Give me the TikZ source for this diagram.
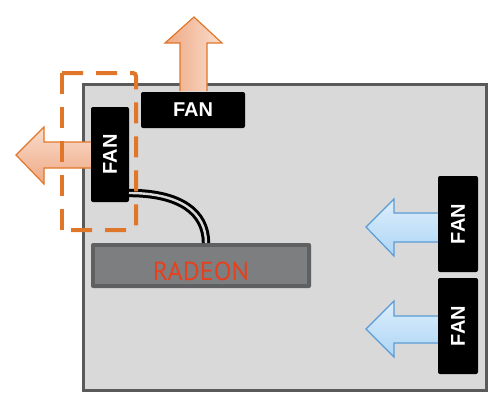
\documentclass[tikz,border=0pt]{standalone}
\usepackage{fontspec}
\newfontfamily\fanfont{Liberation Sans}
\newfontfamily\radfont{PT Sans}
\usetikzlibrary{shadings}
\definecolor{casefill}{HTML}{D9D9D9}
\definecolor{caseline}{HTML}{5A5A5A}
\definecolor{orng}{HTML}{E0762A}
\definecolor{orngA}{HTML}{EFA883}
\definecolor{orngB}{HTML}{F9DDCD}
\definecolor{bluel}{HTML}{5B9BD5}
\definecolor{blueA}{HTML}{DDEEFC}
\definecolor{blueB}{HTML}{ADD5F5}
\definecolor{cardout}{HTML}{5F6062}
\definecolor{cardin}{HTML}{7D7E80}
\definecolor{radred}{HTML}{E8401C}
\tikzset{
  fanbox/.style={fill=black, rounded corners=2pt, inner sep=0pt, text=white,
     font=\fanfont\bfseries\fontsize{20}{20}\selectfont},
  outarrowv/.style={draw=orng, line width=1.2pt, left color=orngA, right color=orngB, line join=miter},
  outarrowh/.style={draw=orng, line width=1.2pt, top color=orngB, bottom color=orngA, line join=miter},
  inarrow/.style={draw=bluel, line width=1.2pt, top color=blueA, bottom color=blueB, line join=miter},
  dashbox/.style={orng, line width=4pt, dash pattern=on 21pt off 13pt},
}
\begin{document}
\begin{tikzpicture}[x=1pt,y=-1pt]
\useasboundingbox (0,0) rectangle (500,407);
% case
\node[draw=caseline, line width=3pt, fill=casefill, minimum width=403pt, minimum height=306pt, inner sep=0pt, anchor=north west] (case) at (81.5,82.5) {};
% arrows
\draw[inarrow] (438,213) -- (394,213) -- (394,199) -- (366,227) -- (394,256) -- (394,242) -- (438,242);
\draw[inarrow] (438,316) -- (394,316) -- (394,301) -- (366,329) -- (394,357) -- (394,343) -- (438,343);
\draw[outarrowv] (180,91) -- (180,43) -- (165,43) -- (194,17) -- (222,43) -- (207,43) -- (207,91);
\draw[outarrowh] (92,142) -- (44,142) -- (44,127) -- (16,155) -- (44,184) -- (44,168) -- (92,168);
% fans
\node[fanbox, minimum width=104pt, minimum height=36pt] (fanT) at (193,110) {FAN};
\node[fanbox, minimum width=38pt, minimum height=95pt] (fanL) at (110,154.5) {\rotatebox{90}{FAN}};
\node[fanbox, minimum width=40pt, minimum height=96pt] (fanR1) at (458,224) {\rotatebox{90}{FAN}};
\node[fanbox, minimum width=40pt, minimum height=96pt] (fanR2) at (458,326) {\rotatebox{90}{FAN}};
% card
\node[fill=cardout, rounded corners=2pt, minimum width=220pt, minimum height=45pt, inner sep=0pt] (card) at (201,265.5) {};
\node[fill=cardin, minimum width=212pt, minimum height=37pt, inner sep=0pt] (cardin) at (201,265.5) {};
\node[anchor=base, inner sep=0pt, text=radred, font=\radfont\fontsize{26}{26}\selectfont] (cardlabel) at (201,280.5) {RADEON};
% cable
\coordinate (cs) at (129,193);
\coordinate (ce) at (206,243);
\draw[line width=3pt, double=casefill, double distance=2.4pt] (cs) .. controls (180,193) and (206,212) .. (ce);
% dashed box
\draw[dashbox, rounded corners=3pt] (62,73) -- (136,73) -- (136,230) -- (62,230);
\draw[dashbox] (62,230) -- (62,73);
\end{tikzpicture}
\end{document}
